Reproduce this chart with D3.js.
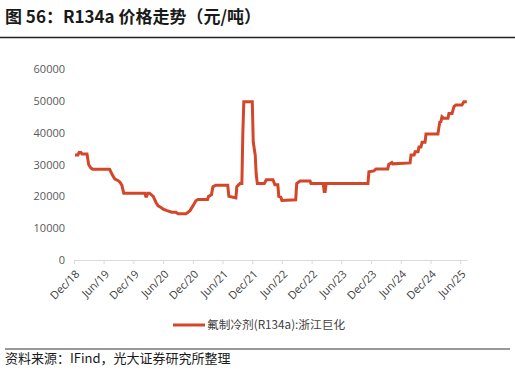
<!DOCTYPE html>
<html lang="zh">
<head>
<meta charset="UTF-8">
<title>R134a 价格走势</title>
<script src="https://cdn.jsdelivr.net/npm/d3@7"></script>
<style>
  body { margin: 0; background: #fff; }
  svg { display: block; }
</style>
</head>
<body>
<script>
// 数据：变化点（日期，元/吨）
var dates = ["2018-12-07","2018-12-25","2019-01-01","2019-01-12","2019-01-19","2019-02-19","2019-03-01","2019-03-13","2019-03-25",
  "2019-07-08","2019-07-27","2019-08-08","2019-08-27","2019-09-09","2019-09-21","2019-10-03",
  "2020-02-09","2020-02-15","2020-02-21","2020-02-27","2020-03-09","2020-04-01","2020-04-19","2020-05-01","2020-05-19","2020-06-01","2020-06-25","2020-07-25","2020-08-19","2020-09-01",
  "2020-10-19","2020-11-01","2020-11-13","2020-12-01","2020-12-19","2021-01-01","2021-03-01","2021-03-07","2021-03-25","2021-04-03","2021-04-21",
  "2021-07-03","2021-07-10","2021-08-22","2021-08-28","2021-09-16","2021-09-28","2021-10-04","2021-10-10",
  "2021-12-01","2021-12-07","2021-12-19","2021-12-25","2022-01-01","2022-02-13","2022-02-25","2022-04-07","2022-04-19","2022-05-07","2022-05-13","2022-05-25","2022-06-01",
  "2022-08-25","2022-08-31","2022-09-21","2022-11-21","2022-11-27","2023-02-10","2023-02-16","2023-02-22","2023-02-28",
  "2023-11-12","2023-11-18","2023-12-19","2024-01-01","2024-03-13","2024-03-19","2024-04-07","2024-04-13","2024-07-28",
  "2024-08-03","2024-08-22","2024-08-28","2024-09-15","2024-09-21","2024-10-03","2024-10-10","2024-10-28","2024-11-03",
  "2025-01-15","2025-01-27","2025-02-03","2025-02-09","2025-02-21","2025-03-18","2025-03-24","2025-04-12","2025-04-24","2025-05-06",
  "2025-06-12","2025-06-24","2025-07-12"];
var prices = [33000,33000,33800,33800,33300,33300,30000,29000,28500,
  28500,26500,25500,25000,24500,23500,21000,
  21000,20000,20000,21000,21000,20000,18000,17000,16500,16000,15500,15000,15000,14500,
  14500,15000,15500,17000,18600,19000,19000,20000,20500,23000,23500,
  23500,20000,19500,23000,24000,24000,40000,49700,
  49700,37000,33000,27000,24000,24000,25200,25200,23600,23600,20000,19800,18700,
  18900,24000,24800,24800,24000,24000,21500,21500,24000,
  24000,27700,28000,28600,28600,30000,30600,30200,30500,
  33000,33000,34000,34000,35500,35500,37000,37000,39600,
  39600,43400,43500,45000,44500,44500,46000,46000,48200,48700,
  48700,49700,49700];
var xTicks = ["2018-12","2019-06","2019-12","2020-06","2020-12","2021-06","2021-12","2022-06","2022-12","2023-06","2023-12","2024-06","2024-12","2025-06"];
var yTicks = [0,10000,20000,30000,40000,50000,60000];
var seriesName = "氟制冷剂(R134a):浙江巨化";
var titleText = "图 56：R134a 价格走势（元/吨）";
var sourceText = "资料来源：IFind，光大证券研究所整理";

var W = 515, H = 370;
var svg = d3.select("body").append("svg").attr("width", W).attr("height", H);
var parse = d3.timeParse("%Y-%m-%d");
var parseM = d3.timeParse("%Y-%m");
var data = dates.map(function (d, i) { return { date: parse(d), v: prices[i] }; });

var plot = { left: 74, right: 467, top: 69, bottom: 260 };

var x = d3.scaleTime()
  .domain([parseM("2018-12"), parse("2025-07-13")])
  .range([plot.left, plot.right]);
var y = d3.scaleLinear().domain([0, 60000]).range([plot.bottom, plot.top]);

// 标题
svg.append("text").attr("x", 5).attr("y", 23)
  .attr("font-family", "'Noto Sans CJK SC', sans-serif")
  .attr("font-size", 17).attr("font-weight", "bold").attr("fill", "#1a1a1a")
  .text(titleText);
svg.append("line").attr("x1", 0).attr("x2", W).attr("y1", 37.5).attr("y2", 37.5)
  .attr("stroke", "#222").attr("stroke-width", 1.5);

// y轴（无轴线）
var yAxis = svg.append("g").attr("transform", "translate(" + (plot.left - 9) + ",0)")
  .call(d3.axisLeft(y).tickValues(yTicks).tickSize(0).tickPadding(0).tickFormat(d3.format("d")));
yAxis.select(".domain").remove();
yAxis.selectAll("text").attr("font-family", "'Open Sans', sans-serif").attr("font-size", 11).attr("fill", "#595959");

// x轴
var xAxis = svg.append("g").attr("transform", "translate(0," + plot.bottom + ")")
  .call(d3.axisBottom(x).tickValues(xTicks.map(parseM)).tickSize(4).tickSizeOuter(0).tickFormat(d3.timeFormat("%b/%y")));
xAxis.select(".domain").attr("stroke", "#d9d9d9");
xAxis.selectAll(".tick line").attr("stroke", "#d9d9d9");
xAxis.selectAll("text")
  .attr("font-family", "'Open Sans', sans-serif").attr("font-size", 11).attr("fill", "#404040")
  .attr("text-anchor", "end").attr("dy", "0.35em")
  .attr("transform", "translate(3,12) rotate(-45)")
  .attr("y", 0).attr("x", 0);

// 折线
var line = d3.line().x(function (d) { return x(d.date); }).y(function (d) { return y(d.v); });
svg.append("path").datum(data).attr("d", line)
  .attr("fill", "none").attr("stroke", "#d4462a").attr("stroke-width", 3)
  .attr("stroke-linejoin", "miter");

// 图例
svg.append("line").attr("x1", 173).attr("x2", 205).attr("y1", 325).attr("y2", 325)
  .attr("stroke", "#d4462a").attr("stroke-width", 3);
svg.append("text").attr("x", 207).attr("y", 329)
  .attr("font-family", "'Noto Sans CJK SC', sans-serif").attr("font-size", 11.7).attr("fill", "#404040")
  .text(seriesName);

// 资料来源
svg.append("line").attr("x1", 5).attr("x2", 510).attr("y1", 349).attr("y2", 349)
  .attr("stroke", "#333").attr("stroke-width", 1);
svg.append("text").attr("x", 5).attr("y", 363)
  .attr("font-family", "'Noto Sans CJK SC', sans-serif").attr("font-size", 13).attr("fill", "#1a1a1a")
  .text(sourceText);
</script>
</body>
</html>
